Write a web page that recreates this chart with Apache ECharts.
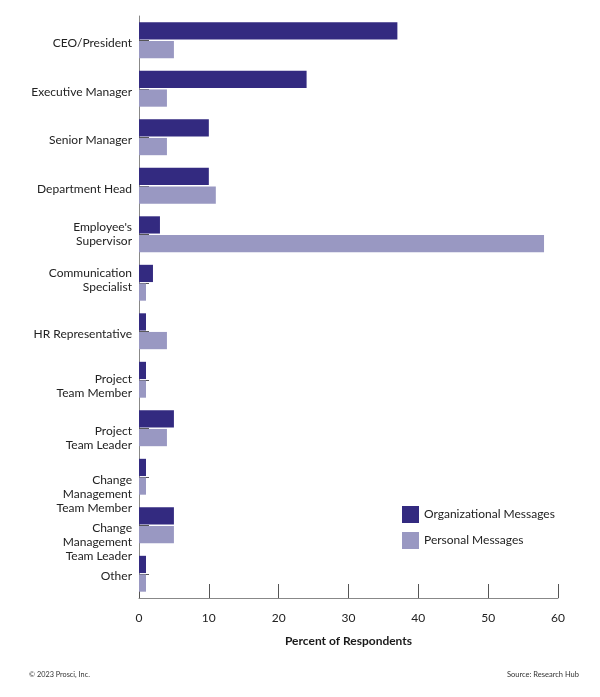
<!DOCTYPE html>
<html><head><meta charset="utf-8">
<script src="https://cdn.jsdelivr.net/npm/echarts@6/dist/echarts.min.js"></script>
<style>html,body{margin:0;padding:0;background:#fff}#c{width:600px;height:697px}</style>
</head><body><div id="c"></div>
<script>
const categories = ["CEO/President","Executive Manager","Senior Manager","Department Head","Employee's\nSupervisor","Communication\nSpecialist","HR Representative","Project\nTeam Member","Project\nTeam Leader","Change\nManagement\nTeam Member","Change\nManagement\nTeam Leader","Other"];
const orgValues = [37,24,10,10,3,2,1,1,5,1,5,1];
const personalValues = [5,4,4,11,58,1,4,1,4,1,5,1];
const xTicks = [0,10,20,30,40,50,60];

// label vertical offsets (px, layout only)
const labelShift = [3,3,3,3,0,-3,3,6,10,17,17,2];

const chart = echarts.init(document.getElementById('c'));
const font = 'Lato, "Open Sans", sans-serif';
const labelFont = {fontFamily:font,fontSize:12,color:'#222',lineHeight:14};
const rich = {n: Object.assign({}, labelFont, {align:'right'})};
labelShift.forEach((s,i)=>{
  rich['g'+i] = {fontSize:1, lineHeight:Math.max(1,2*Math.abs(s)), height:Math.max(1,2*Math.abs(s)), align:'right'};
});
function fmt(v,i){
  const s = labelShift[i];
  const body = v.split('\n').map(l=>`{n|${l}}`).join('\n');
  if (s > 0) return `{g${i}| }\n` + body;
  if (s < 0) return body + `\n{g${i}| }`;
  return body;
}
chart.setOption({
  animation:false,
  textStyle:{fontFamily:font},
  grid:{left:139,right:42,top:16,bottom:99,containLabel:false},
  legend:{
    orient:'vertical', left:402, top:506, padding:0, itemWidth:17, itemHeight:17, itemGap:9,
    textStyle:{fontFamily:font,fontSize:12,color:'#222'},
    icon:'rect',
    data:['Organizational Messages','Personal Messages']
  },
  xAxis:{
    type:'value', min:0, max:60, interval:10,
    axisLine:{show:true,lineStyle:{color:'#888',width:1}},
    axisTick:{show:true,inside:true,length:14,lineStyle:{color:'#555'}},
    splitLine:{show:false},
    axisLabel:{fontFamily:font,fontSize:12,color:'#222',margin:14,formatter:v=>xTicks.includes(v)?String(v):''},
    name:'Percent of Respondents', nameLocation:'middle', nameGap:37,
    nameTextStyle:{fontFamily:font,fontSize:12,fontWeight:'bold',color:'#1a1a1a'}
  },
  yAxis:{
    type:'category', inverse:true, data:categories,
    axisLine:{show:true,lineStyle:{color:'#888',width:1}},
    axisTick:{show:true,inside:true,length:10,alignWithLabel:true,lineStyle:{color:'#555'}},
    axisLabel:Object.assign({}, labelFont, {margin:7, align:'right', formatter:fmt, rich:rich})
  },
  graphic:[
    {type:'text',left:29,top:671,style:{text:'© 2023 Prosci, Inc.',font:'7.3px '+font,fill:'#333'}},
    {type:'text',right:21,top:671,style:{text:'Source: Research Hub',font:'7.5px '+font,fill:'#333'}}
  ],
  series:[
    {name:'Organizational Messages',type:'bar',data:orgValues,barGap:'8%',barCategoryGap:'26%',
     itemStyle:{color:'#332a80'}},
    {name:'Personal Messages',type:'bar',data:personalValues,
     itemStyle:{color:'#9998c2'}}
  ]
});
</script></body></html>
